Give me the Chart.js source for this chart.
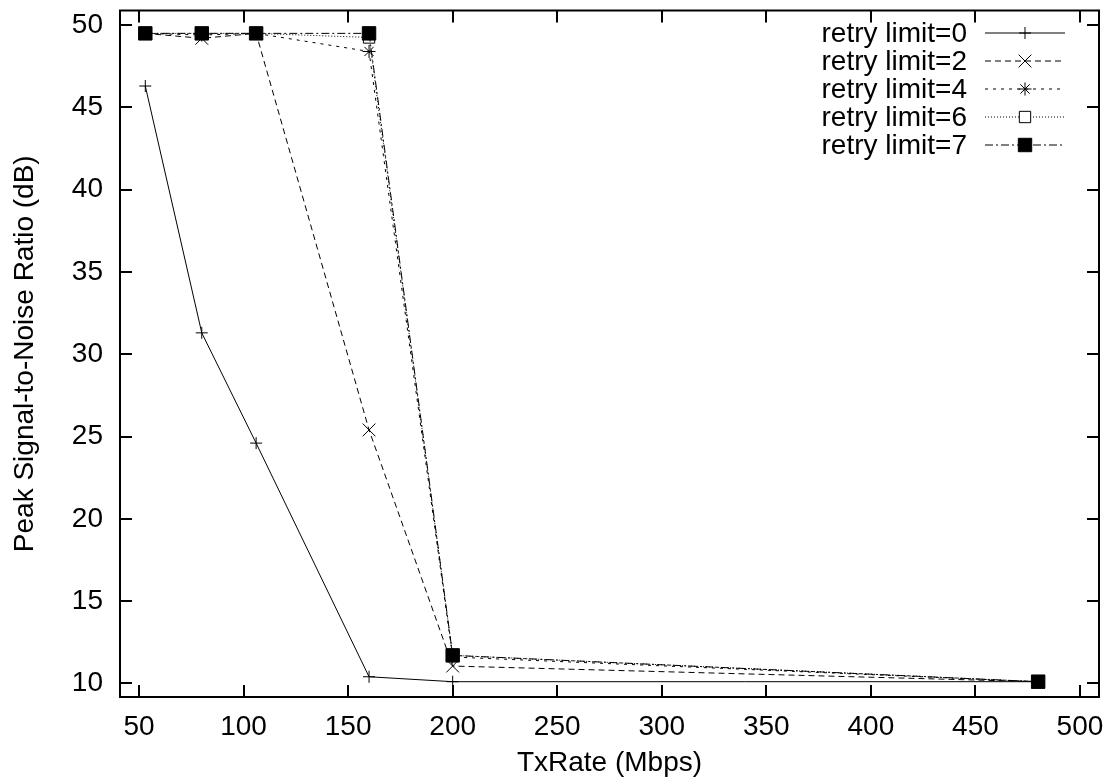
<!DOCTYPE html>
<html>
<head>
<meta charset="utf-8">
<script src="https://cdn.jsdelivr.net/npm/chart.js@4/dist/chart.umd.min.js"></script>
<style>
    body { margin: 0; background: #ffffff; }
    #wrap { position: relative; width: 1117px; height: 782px; }
    #wrap canvas { position: absolute; left: 0; top: 0; }
</style>
</head>
<body>
<div id="wrap">
    <canvas id="psnrChart" width="1117" height="782"></canvas>
    <canvas id="keyLayer" width="1117" height="782"></canvas>
</div>
<script>
// data
const txRates = [53, 80, 106, 160, 200, 480];
const retry0 = [46.3, 31.3, 24.6, 10.4, 10.1, 10.1];
const retry2 = [49.5, 49.2, 49.5, 25.4, 11.05, 10.1];
const retry4 = [49.5, 49.4, 49.5, 48.4, 11.6, 10.1];
const retry6 = [49.5, 49.5, 49.5, 49.25, 11.7, 10.1];
const retry7 = [49.5, 49.5, 49.5, 49.5, 11.7, 10.1];
const seriesNames = ['retry limit=0', 'retry limit=2', 'retry limit=4', 'retry limit=6', 'retry limit=7'];
const xTicks = [50, 100, 150, 200, 250, 300, 350, 400, 450, 500];
const yTicks = [10, 15, 20, 25, 30, 35, 40, 45, 50];

const FONT = '"Liberation Sans", Arial, Helvetica, sans-serif';
const FONT_SIZE = 28;
let chart;

function toPoints(values) {
    return values.map((v, i) => ({ x: txRates[i], y: v }));
}

// gnuplot style: boxed frame with inward ticks on all four sides
const framePlugin = {
    id: 'frame',
    afterDraw(c) {
        const ctx = c.ctx;
        const a = c.chartArea;
        const xs = c.scales.x;
        const ys = c.scales.y;
        ctx.save();
        ctx.strokeStyle = '#000';
        ctx.lineWidth = 2;
        ctx.setLineDash([]);
        ctx.beginPath();
        xTicks.forEach(t => {
            const px = Math.round(xs.getPixelForValue(t));
            ctx.moveTo(px, a.bottom);
            ctx.lineTo(px, a.bottom - 12);
            ctx.moveTo(px, a.top);
            ctx.lineTo(px, a.top + 12);
        });
        yTicks.forEach(t => {
            const py = Math.round(ys.getPixelForValue(t));
            ctx.moveTo(a.left, py);
            ctx.lineTo(a.left + 12, py);
            ctx.moveTo(a.right, py);
            ctx.lineTo(a.right - 12, py);
        });
        ctx.stroke();
        ctx.strokeRect(a.left, a.top, a.right - a.left, a.bottom - a.top);
        ctx.restore();
    }
};

// small marker drawer for the key, same shapes as the chart points
function drawMarker(ctx, style, r, fill, x, y) {
    ctx.beginPath();
    if (style === 'cross' || style === 'star') {
        ctx.moveTo(x - r, y);
        ctx.lineTo(x + r, y);
        ctx.moveTo(x, y - r);
        ctx.lineTo(x, y + r);
    }
    if (style === 'crossRot' || style === 'star') {
        const d = r * Math.SQRT1_2;
        ctx.moveTo(x - d, y - d);
        ctx.lineTo(x + d, y + d);
        ctx.moveTo(x - d, y + d);
        ctx.lineTo(x + d, y - d);
    }
    if (style === 'rect') {
        const s = r * Math.SQRT1_2;
        ctx.rect(x - s, y - s, 2 * s, 2 * s);
        ctx.fillStyle = fill;
        ctx.fill();
    }
    ctx.stroke();
}

// key in the top right corner, drawn on its own layer above the chart
function drawKey() {
    const ctx = document.getElementById('keyLayer').getContext('2d');
    chart.data.datasets.forEach((ds, i) => {
        const y = 33 + i * 28;
        ctx.save();
        ctx.font = FONT_SIZE + 'px ' + FONT;
        ctx.fillStyle = '#000';
        ctx.textAlign = 'right';
        ctx.textBaseline = 'middle';
        ctx.fillText(ds.label, 967, y + 1);
        ctx.strokeStyle = '#000';
        ctx.lineWidth = 1;
        ctx.setLineDash(ds.borderDash.slice());
        ctx.beginPath();
        ctx.moveTo(985, y);
        ctx.lineTo(1065, y);
        ctx.stroke();
        ctx.setLineDash([]);
        drawMarker(ctx, ds.pointStyle, ds.pointRadius, ds.pointBackgroundColor, 1025, y);
        ctx.restore();
    });
}

function makeSet(label, values, dash, style, radius, fill, order) {
    return {
        label: label,
        data: toPoints(values),
        borderColor: '#000',
        borderWidth: 1,
        borderDash: dash,
        pointStyle: style,
        pointRadius: radius,
        pointHoverRadius: radius,
        pointBorderColor: '#000',
        pointBorderWidth: 1,
        pointBackgroundColor: fill,
        tension: 0,
        fill: false,
        order: order
    };
}

function initChart() {
    const ctx = document.getElementById('psnrChart').getContext('2d');
    chart = new Chart(ctx, {
        type: 'line',
        data: {
            datasets: [
                makeSet(seriesNames[0], retry0, [], 'cross', 6, '#000', 5),
                makeSet(seriesNames[1], retry2, [6, 4], 'crossRot', 9, '#000', 4),
                makeSet(seriesNames[2], retry4, [3, 5], 'star', 6.5, '#000', 3),
                makeSet(seriesNames[3], retry6, [1, 2], 'rect', 8, '#ffffff', 2),
                makeSet(seriesNames[4], retry7, [8, 3, 2, 3], 'rect', 9.5, '#000', 1)
            ]
        },
        options: {
            responsive: false,
            animation: false,
            devicePixelRatio: 1,
            events: [],
            layout: {
                padding: { top: 6, right: 18, left: 0, bottom: 0 }
            },
            plugins: {
                legend: { display: false },
                tooltip: { enabled: false }
            },
            scales: {
                x: {
                    type: 'linear',
                    min: 40.9,
                    max: 509.1,
                    afterBuildTicks: s => { s.ticks = xTicks.map(v => ({ value: v })); },
                    afterFit: s => {
                        s.height = 85;
                        s.paddingLeft = 0;
                        s.paddingRight = 0;
                    },
                    grid: { display: false, drawTicks: false },
                    border: { display: false },
                    ticks: {
                        color: '#000',
                        padding: 13,
                        maxRotation: 0,
                        font: { family: FONT, size: FONT_SIZE },
                        callback: v => String(v)
                    },
                    title: {
                        display: true,
                        text: 'TxRate (Mbps)',
                        color: '#000',
                        font: { family: FONT, size: FONT_SIZE, lineHeight: 1.2 },
                        padding: { top: 0, bottom: 2 }
                    }
                },
                y: {
                    type: 'linear',
                    min: 9.17,
                    max: 50.89,
                    afterBuildTicks: s => { s.ticks = yTicks.map(v => ({ value: v })); },
                    afterFit: s => {
                        s.width = 120;
                        s.paddingTop = 0;
                        s.paddingBottom = 0;
                    },
                    grid: { display: false, drawTicks: false },
                    border: { display: false },
                    ticks: {
                        color: '#000',
                        padding: 17,
                        font: { family: FONT, size: FONT_SIZE },
                        callback: v => String(v)
                    },
                    title: {
                        display: true,
                        text: 'Peak Signal-to-Noise Ratio (dB)',
                        color: '#000',
                        font: { family: FONT, size: FONT_SIZE, lineHeight: 1.2 },
                        padding: { top: 8, bottom: 0 }
                    }
                }
            }
        },
        plugins: [framePlugin]
    });
}

initChart();
drawKey();
</script>
</body>
</html>
